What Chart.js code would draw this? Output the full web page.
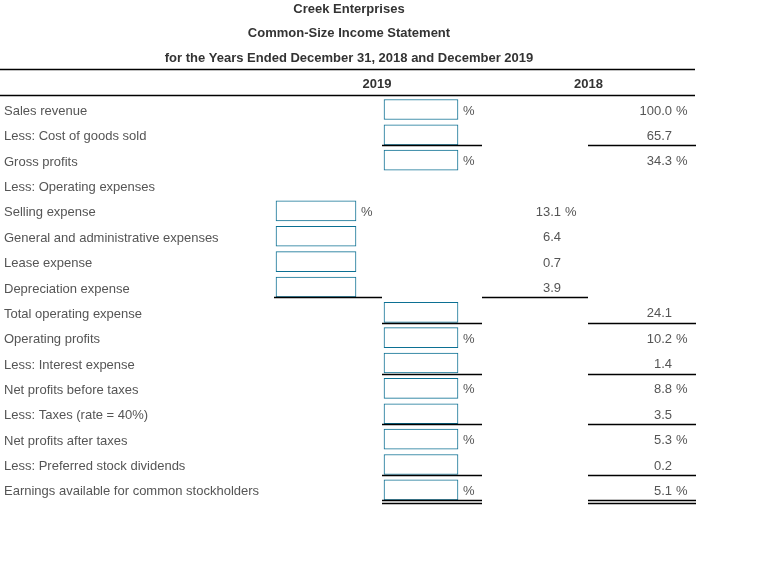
<!DOCTYPE html>
<html>
<head>
<meta charset="utf-8">
<script src="https://cdn.jsdelivr.net/npm/chart.js@4"></script>
<style>
  html, body { margin: 0; padding: 0; background: #fff; }
  #wrap { width: 765px; height: 563px; }
</style>
</head>
<body>
<div id="wrap"><canvas id="statement" width="765" height="563"></canvas></div>
<script>
// rows of the statement
const rowLabels = [
  'Sales revenue',
  'Less: Cost of goods sold',
  'Gross profits',
  'Less: Operating expenses',
  'Selling expense',
  'General and administrative expenses',
  'Lease expense',
  'Depreciation expense',
  'Total operating expense',
  'Operating profits',
  'Less: Interest expense',
  'Net profits before taxes',
  'Less: Taxes (rate = 40%)',
  'Net profits after taxes',
  'Less: Preferred stock dividends',
  'Earnings available for common stockholders'
];

const titleLines = [
  'Creek Enterprises',
  'Common-Size Income Statement',
  'for the Years Ended December 31, 2018 and December 2019'
];
const yearLabels = ['2019', '2018'];

// 2018 common-size values (%), null = blank
const values2018 = [100.0, 65.7, 34.3, null, 13.1, 6.4, 0.7, 3.9, 24.1, 10.2, 1.4, 8.8, 3.5, 5.3, 0.2, 5.1];
// which column a row sits in: 'detail' (inner) or 'total' (outer), null = no entry
const rowColumn = [
  'total', 'total', 'total', null,
  'detail', 'detail', 'detail', 'detail',
  'total', 'total', 'total', 'total', 'total', 'total', 'total', 'total'
];
// rows that show a % sign
const pctRows = [0, 2, 4, 9, 11, 13, 15];
// rows followed by a rule: single or double
const ruleRows = [1, 7, 8, 10, 12, 14];
const doubleRuleRows = [15];

// column layout (x in px along the hidden axis)
const cols = {
  detail2019: [276, 356],
  total2019: [384, 458],
  detailRule2019: [274, 382],
  totalRule2019: [382, 482],
  detailRule2018: [482, 588],
  totalRule2018: [588, 696],
  detailNum2018: 561,
  totalNum2018: 672
};

const textColor = '#555';
const headColor = '#333';
const boxColor = '#0c7093';
const font = "'Liberation Sans', Arial, sans-serif";

const statementPlugin = {
  id: 'statement',
  afterDraw(chart) {
    const ctx = chart.ctx;
    const y = chart.scales.y;
    const area = chart.chartArea;
    const midX = (area.left + area.right) / 2;
    ctx.save();

    // titles
    ctx.fillStyle = headColor;
    ctx.font = 'bold 13px ' + font;
    ctx.textAlign = 'center';
    ctx.textBaseline = 'middle';
    titleLines.forEach((t, i) => ctx.fillText(t, midX, 9 + i * 24.8));
    ctx.fillText(yearLabels[0], 377, 84.5);
    ctx.fillText(yearLabels[1], 588.5, 84.5);

    // header rules
    ctx.strokeStyle = '#000';
    ctx.lineWidth = 1.6;
    [69.5, 95.5].forEach(ly => {
      ctx.beginPath();
      ctx.moveTo(0, ly);
      ctx.lineTo(695, ly);
      ctx.stroke();
    });

    // 2018 values and % signs
    ctx.font = '13px ' + font;
    ctx.fillStyle = textColor;
    rowLabels.forEach((_, i) => {
      const py = y.getPixelForValue(i) + 1.5;
      const col = rowColumn[i];
      const hasPct = pctRows.includes(i);
      if (values2018[i] !== null) {
        const nx = col === 'detail' ? cols.detailNum2018 : cols.totalNum2018;
        ctx.textAlign = 'right';
        ctx.fillText(values2018[i].toFixed(1), nx, py);
        if (hasPct) {
          ctx.textAlign = 'left';
          ctx.fillText('%', nx + 4, py);
        }
      }
      if (col && hasPct) {
        const bx = col === 'detail' ? cols.detail2019[1] : cols.total2019[1];
        ctx.textAlign = 'left';
        ctx.fillText('%', bx + 5, py);
      }
    });

    // underlines
    const rule = (x0, x1, ly) => {
      ctx.beginPath();
      ctx.moveTo(x0, ly);
      ctx.lineTo(x1, ly);
      ctx.stroke();
    };
    ctx.lineWidth = 1.5;
    ruleRows.concat(doubleRuleRows).forEach(i => {
      const ly = Math.round(y.getPixelForValue(i) + 10.5) + 0.5;
      const a = rowColumn[i] === 'detail' ? cols.detailRule2019 : cols.totalRule2019;
      const b = rowColumn[i] === 'detail' ? cols.detailRule2018 : cols.totalRule2018;
      rule(a[0], a[1], ly);
      rule(b[0], b[1], ly);
      if (doubleRuleRows.includes(i)) {
        rule(a[0], a[1], ly + 3);
        rule(b[0], b[1], ly + 3);
      }
    });
    ctx.restore();
  }
};

const boxStyle = {
  backgroundColor: '#fff',
  borderColor: boxColor,
  borderWidth: 1,
  borderSkipped: false,
  barThickness: 20,
  grouped: false
};

new Chart(document.getElementById('statement'), {
  type: 'bar',
  data: {
    labels: rowLabels,
    datasets: [
      Object.assign({
        label: '2019 detail',
        data: rowColumn.map(c => c === 'detail' ? cols.detail2019 : null)
      }, boxStyle),
      Object.assign({
        label: '2019 total',
        data: rowColumn.map(c => c === 'total' ? cols.total2019 : null)
      }, boxStyle)
    ]
  },
  options: {
    indexAxis: 'y',
    responsive: false,
    animation: false,
    layout: { padding: { top: 96.8, bottom: 60.5, left: 0, right: 67 } },
    scales: {
      x: { type: 'linear', min: 0, max: 698, display: false },
      y: {
        type: 'category',
        offset: true,
        afterFit: scale => { scale.width = 0; },
        grid: { display: false, drawTicks: false },
        border: { display: false },
        ticks: {
          mirror: true,
          padding: 4,
          labelOffset: 2,
          autoSkip: false,
          color: textColor,
          font: { family: font, size: 13 }
        }
      }
    },
    plugins: {
      legend: { display: false },
      tooltip: { enabled: false },
      title: { display: false }
    }
  },
  plugins: [statementPlugin]
});
</script>
</body>
</html>
